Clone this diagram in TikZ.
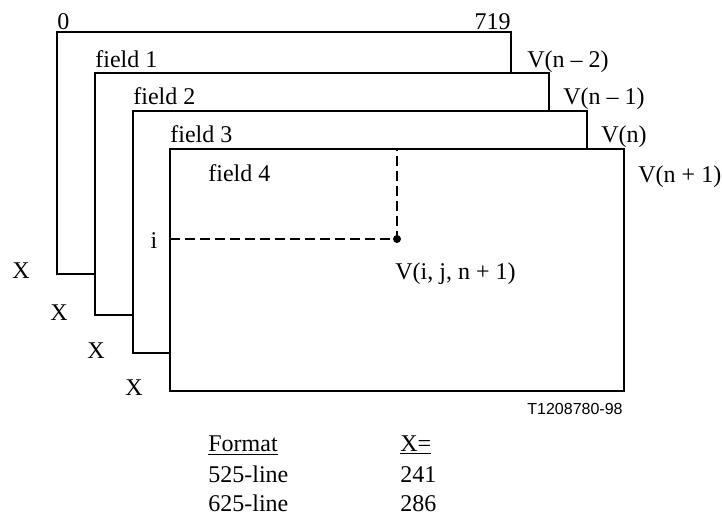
\documentclass[tikz,border=0pt]{standalone}
\usepackage{fontspec}
\setmainfont{Liberation Serif}
\newfontfamily\tagfont{Liberation Sans}
\tikzset{
  frame/.style={draw,fill=white,line width=0.6pt},
  guide/.style={dashed,line width=0.8pt,dash pattern=on 5pt off 2.5pt},
  lbl/.style={anchor=base west,inner sep=0pt,font=\fontsize{12}{14}\selectfont},
}
\begin{document}
\begin{tikzpicture}[x=0.5pt,y=-0.5pt]
			\useasboundingbox (0,0) rectangle (722,514);
			\coordinate (F1) at (57,32);
			\coordinate (F2) at (95,73);
			\coordinate (F3) at (133,111);
			\coordinate (F4) at (170,149);
			\filldraw[frame] (F1) rectangle ++(454,242); %field 1
			\filldraw[frame] (F2) rectangle ++(454,242); %field 2
			\filldraw[frame] (F3) rectangle ++(454,242); %field 3
			\filldraw[frame] (F4) rectangle ++(454,242); %field 4
			\node[lbl] (zero) at (57,29) {0};
			\node[lbl,anchor=base east] (last) at (511,29) {719};
			\node[lbl] (fld1) at (95,67) {field 1};
			\node[lbl] (fld2) at (133,104) {field 2};
			\node[lbl] (fld3) at (170,142) {field 3};
			\node[lbl] (fld4) at (208,181) {field 4};
			\node[lbl] (V1) at (527,67) {V(n – 2)};
			\node[lbl] (V2) at (563,104) {V(n – 1)};
			\node[lbl] (V3) at (601,142) {V(n)};
			\node[lbl] (V4) at (638,182) {V(n + 1)};
			% sample point
			\coordinate (P) at (397,239);
			\coordinate (Pi) at (170,239);
			\coordinate (Pj) at (397,149);
			\draw[guide] (Pi)--(P)--(Pj);
			\fill (P) circle [radius=2pt];
			\node[lbl,anchor=base] (row) at (154,248) {i};
			\node[lbl] (pix) at (395,279) {V(i, j, n + 1)};
			\node[lbl] (X1) at (12,278) {X};
			\node[lbl] (X2) at (50,320) {X};
			\node[lbl] (X3) at (87,358) {X};
			\node[lbl] (X4) at (125,395) {X};
			\node[lbl,anchor=base east,font=\tagfont\fontsize{8}{10}\selectfont] (tag) at (623,414) {T1208780-98};
			% table
			\node[lbl] (fmt) at (208,451) {\underline{Format}};
			\node[lbl] (xeq) at (400,451) {\underline{X=}};
			\node[lbl] (f525) at (208,482) {525-line};
			\node[lbl] (x525) at (400,482) {241};
			\node[lbl] (f625) at (208,511) {625-line};
			\node[lbl] (x625) at (400,511) {286};
		\end{tikzpicture}
\end{document}
